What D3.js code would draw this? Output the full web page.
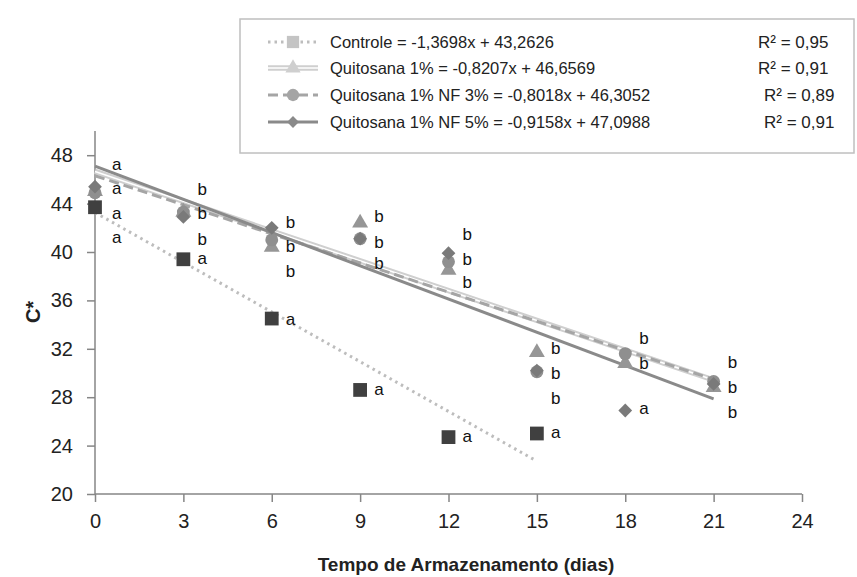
<!DOCTYPE html>
<html>
<head>
<meta charset="utf-8">
<script src="https://cdn.jsdelivr.net/npm/d3@7"></script>
<style>
  body { margin: 0; background: #fff; }
  svg { font-family: "Liberation Sans", Arial, sans-serif; }
</style>
</head>
<body>
<svg id="chart" width="857" height="577"></svg>
<script>
// storage days
const days = [0, 3, 6, 9, 12, 15, 18, 21];

// C* values per treatment
const controle = [43.7, 39.4, 34.5, 28.6, 24.7, 25.0];
const quito1 = [45.0, 43.3, 40.4, 42.4, 38.5, 31.7, 30.8, 28.8];
const quitoNF3 = [44.9, 43.3, 41.0, 41.1, 39.2, 30.1, 31.6, 29.3];
const quitoNF5 = [45.4, 42.9, 42.0, 41.1, 39.9, 30.2, 26.9, 29.1];

// trend lines: slope, intercept, last day
const trendSlope = [-1.3698, -0.8207, -0.8018, -0.9158];
const trendIntercept = [43.2626, 46.6569, 46.3052, 47.0988];
const trendEnd = [15, 21, 21, 21];

const seriesNames = ["Controle", "Quitosana 1%", "Quitosana 1% NF 3%", "Quitosana 1% NF 5%"];
const equations = [
  "Controle = -1,3698x + 43,2626",
  "Quitosana 1% = -0,8207x + 46,6569",
  "Quitosana 1% NF 3% = -0,8018x + 46,3052",
  "Quitosana 1% NF 5% = -0,9158x + 47,0988"
];
const r2Labels = ["R² = 0,95", "R² = 0,91", "R² = 0,89", "R² = 0,91"];

// significance letters
const letterDay = [0, 0, 0, 0, 3, 3, 3, 3, 6, 6, 6, 6, 9, 9, 9, 9, 12, 12, 12, 12, 15, 15, 15, 15, 18, 18, 18, 21, 21, 21];
const letterVal = [47.3, 45.3, 43.2, 41.2, 45.2, 43.2, 41.1, 39.5, 42.5, 40.5, 38.4, 34.5,
  43.0, 40.8, 39.1, 28.7, 41.5, 39.4, 37.5, 24.8, 32.1, 30.0, 27.9, 25.1, 32.9, 30.8, 27.1, 30.9, 28.8, 26.8];
const letterText = ["a", "a", "a", "a", "b", "b", "b", "a", "b", "b", "b", "a",
  "b", "b", "b", "a", "b", "b", "b", "a", "b", "b", "b", "a", "b", "b", "a", "b", "b", "b"];

const xTicks = [0, 3, 6, 9, 12, 15, 18, 21, 24];
const yTicks = [20, 24, 28, 32, 36, 40, 44, 48];

const svg = d3.select("#chart");
const x = d3.scaleLinear().domain([0, 24]).range([95, 802]);
const y = d3.scaleLinear().domain([20, 50]).range([494, 131]);

const axisColor = "#868686";

// axes
const xAxis = svg.append("g").attr("transform", "translate(0,494)")
  .call(d3.axisBottom(x).tickValues(xTicks).tickSize(8).tickPadding(12));
const yAxis = svg.append("g").attr("transform", "translate(95,0)")
  .call(d3.axisLeft(y).tickValues(yTicks).tickSize(8).tickPadding(14));
[xAxis, yAxis].forEach(g => {
  g.select(".domain").attr("stroke", axisColor).attr("stroke-width", 1.5);
  g.selectAll(".tick line").attr("stroke", axisColor).attr("stroke-width", 1.5);
  g.selectAll(".tick text").attr("fill", "#222").style("font-size", "20px")
    .style("font-family", "Liberation Sans, Arial, sans-serif");
});
yAxis.select(".domain").attr("d", `M0,${y(50)}V${y(20)}`);
xAxis.select(".domain").attr("d", `M0,0H${x(24) - x(0)}`).attr("transform", `translate(${x(0)},0)`);

svg.append("text").attr("x", 466).attr("y", 571).attr("text-anchor", "middle")
  .style("font-size", "19px").style("font-weight", "bold").attr("fill", "#222")
  .text("Tempo de Armazenamento (dias)");
svg.append("text").attr("transform", "translate(40,312) rotate(-90)").attr("text-anchor", "middle")
  .style("font-size", "20px").style("font-weight", "bold").attr("fill", "#222")
  .text("C*");

// trend lines
const trendStyles = [
  { stroke: "#bdbdbd", width: 3, dash: "2.5,4" },
  { stroke: "#cfcfcf", width: 5.5, dash: null, inner: true },
  { stroke: "#a5a5a5", width: 3, dash: "10,5" },
  { stroke: "#8a8a8a", width: 3, dash: null }
];
function drawLine(g, x1, y1, x2, y2, st) {
  const l = g.append("line").attr("x1", x1).attr("y1", y1).attr("x2", x2).attr("y2", y2)
    .attr("stroke", st.stroke).attr("stroke-width", st.width);
  if (st.dash) l.attr("stroke-dasharray", st.dash);
  if (st.inner) {
    g.append("line").attr("x1", x1).attr("y1", y1).attr("x2", x2).attr("y2", y2)
      .attr("stroke", "#fff").attr("stroke-width", 1.5);
  }
}
const trendG = svg.append("g");
[1, 2, 3, 0].forEach(i => {
  drawLine(trendG, x(0), y(trendIntercept[i]), x(trendEnd[i]),
    y(trendIntercept[i] + trendSlope[i] * trendEnd[i]), trendStyles[i]);
});

// markers (diamond = square turned 45 degrees)
const markerDefs = [
  { sym: d3.symbolSquare, size: 190, fill: "#404040", data: controle, rot: 0 },
  { sym: d3.symbolTriangle, size: 110, fill: "#969696", data: quito1, rot: 0 },
  { sym: d3.symbolCircle, size: 130, fill: "#8f8f8f", data: quitoNF3, rot: 0 },
  { sym: d3.symbolSquare, size: 95, fill: "#7a7a7a", data: quitoNF5, rot: 45 }
];
markerDefs.forEach(m => {
  svg.append("g").selectAll("path").data(m.data).join("path")
    .attr("transform", (d, i) => `translate(${x(days[i])},${y(d)}) rotate(${m.rot})`)
    .attr("d", d3.symbol().type(m.sym).size(m.size))
    .attr("fill", m.fill);
});

// letters
svg.append("g").selectAll("text").data(letterVal).join("text")
  .attr("x", (d, i) => x(letterDay[i]) + (letterDay[i] === 0 ? 17 : 14))
  .attr("y", d => y(d))
  .attr("dy", "0.35em")
  .style("font-size", "17px").attr("fill", "#111")
  .text((d, i) => letterText[i]);

// legend
const leg = svg.append("g");
leg.append("rect").attr("x", 240).attr("y", 19).attr("width", 614).attr("height", 134)
  .attr("fill", "#fff").attr("stroke", "#bfbfbf").attr("stroke-width", 1.5);
const legY = [42, 68, 95, 122];
const legMarkers = [
  { sym: d3.symbolSquare, size: 150, fill: "#c4c4c4", rot: 0 },
  { sym: d3.symbolTriangle, size: 100, fill: "#cfcfcf", rot: 0 },
  { sym: d3.symbolCircle, size: 120, fill: "#a5a5a5", rot: 0 },
  { sym: d3.symbolSquare, size: 70, fill: "#8a8a8a", rot: 45 }
];
seriesNames.forEach((name, i) => {
  drawLine(leg, 268, legY[i], 318, legY[i], trendStyles[i]);
  leg.append("path").attr("transform", `translate(293,${legY[i]}) rotate(${legMarkers[i].rot})`)
    .attr("d", d3.symbol().type(legMarkers[i].sym).size(legMarkers[i].size))
    .attr("fill", legMarkers[i].fill);
  leg.append("text").attr("x", 330).attr("y", legY[i]).attr("dy", "0.35em")
    .style("font-size", "16.5px").attr("fill", "#222").text(equations[i]);
  leg.append("text").attr("x", i < 2 ? 758 : 764).attr("y", legY[i]).attr("dy", "0.35em")
    .style("font-size", "17px").attr("fill", "#222").text(r2Labels[i]);
});
</script>
</body>
</html>
